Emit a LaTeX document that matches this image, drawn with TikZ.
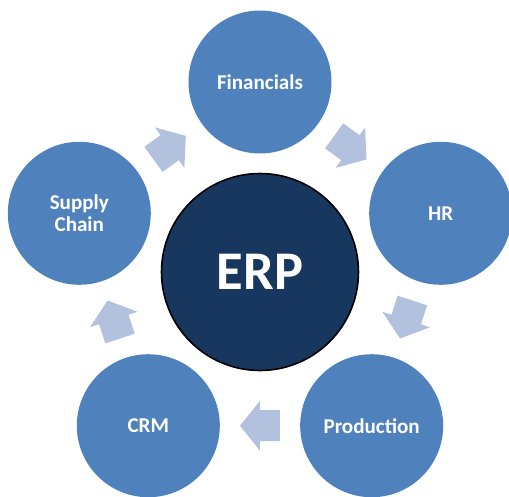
\documentclass[tikz,border=0pt]{standalone}
\usepackage{fontspec}
\setmainfont{Carlito}
\usepackage{tikz}
\usetikzlibrary{calc}
\definecolor{modblue}{RGB}{79,129,189}
\definecolor{erpnavy}{RGB}{23,55,94}
\definecolor{flowblue}{RGB}{178,193,221}

\begin{document}
\begin{tikzpicture}[
  module/.style={circle,fill=modblue,minimum size=2.86cm,inner sep=0pt,text=white,align=center,font=\fontsize{12}{12.5}\selectfont\bfseries},
  hub/.style={circle,draw=black,line width=0.9pt,fill=erpnavy,minimum size=3.94cm,inner sep=0pt,text=white,font=\fontsize{31}{36}\selectfont\bfseries},
  flowarrow/.pic={\fill[flowblue] (-0.4,-0.31) -- (0,-0.31) -- (0,-0.5) -- (0.4,0) -- (0,0.5) -- (0,0.31) -- (-0.4,0.31) -- cycle;}
]
  \useasboundingbox (-5.2,-4.48) rectangle (4.98,5.44);
  \node[hub] (erp) at (0,0) {ERP};
  \node[module] (fin) at (90:3.8) {Financials};
  \node[module] (hr) at (18:3.8) {HR};
  \node[module] (prod) at (-54:3.8) {Production};
  \node[module] (crm) at (-126:3.8) {CRM};
  \node[module] (supply) at (162:3.8) {Supply\\Chain};
  \pic[rotate=-36] at ($(fin)!0.5!(hr)$) {flowarrow};
  \pic[rotate=-108] at ($(hr)!0.5!(prod)$) {flowarrow};
  \pic[rotate=180] at ($(prod)!0.5!(crm)$) {flowarrow};
  \pic[rotate=108] at ($(crm)!0.5!(supply)$) {flowarrow};
  \pic[rotate=36] at ($(supply)!0.5!(fin)$) {flowarrow};
\end{tikzpicture}
\end{document}
